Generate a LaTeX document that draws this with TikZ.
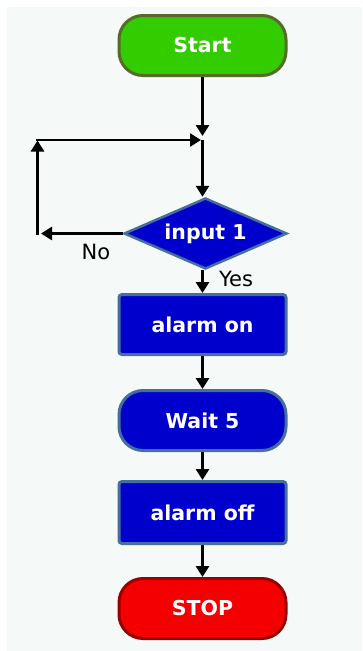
\documentclass[tikz,border=0pt]{standalone}
\usepackage{fontspec}
\setmainfont{DejaVu Sans}
\usetikzlibrary{shapes.geometric,arrows.meta}
\definecolor{bgc}{HTML}{F5F9F8}
\definecolor{gfill}{HTML}{33CC00}
\definecolor{gline}{HTML}{566B2A}
\definecolor{bfill}{HTML}{0000CC}
\definecolor{bline}{HTML}{45709E}
\definecolor{rfill}{HTML}{F50000}
\definecolor{rline}{HTML}{990000}
\tikzset{
  lbl/.style={text=white,font=\bfseries\fontsize{20.5}{24}\selectfont},
  term/.style={lbl,draw,line width=3pt,rounded corners=24pt,minimum width=167pt,minimum height=60pt,inner sep=0pt},
  proc/.style={lbl,draw=bline,fill=bfill,line width=3pt,rounded corners=3pt,minimum width=167pt,minimum height=60pt,inner sep=0pt},
  dec/.style={lbl,diamond,draw=bline,fill=bfill,line width=2.5pt,aspect=2.26,minimum width=163pt,minimum height=71pt,inner sep=0pt},
  arr/.style={line width=2.7pt,-{Triangle[width=13pt,length=11pt]}},
  yn/.style={text=black,font=\fontsize{21}{24}\selectfont,inner sep=0pt}
}
\begin{document}
\begin{tikzpicture}[x=1pt,y=-1pt]
\useasboundingbox (0,0) rectangle (362,651);
\fill[bgc] (7,7) rectangle (362,651);
\node[term,fill=gfill,draw=gline] (start) at (202.5,45.5) {Start};
\coordinate (j) at (202.5,140);
\coordinate (tl) at (37.5,140);
\coordinate (bl) at (37.5,233.5);
\node[dec] (dia) at (205.5,233.5) {input 1};
\node[proc] (on) at (202.5,324.5) {alarm on};
\node[term,fill=bfill,draw=bline] (wait) at (202.5,420.5) {Wait 5};
\node[proc,minimum height=62pt] (off) at (202.5,512.5) {alarm off};
\node[term,fill=rfill,draw=rline] (stop) at (202.5,608.5) {STOP};
\node[yn] (no) at (96,252) {No};
\node[yn] (yes) at (236,278.5) {Yes};
\draw[arr,shorten >=4pt] (start.south) -- (j);
\draw[arr,line cap=rect,shorten >=1.5pt] (tl) -- (j);
\draw[arr] (j) -- (j |- dia.north);
\draw[arr,shorten >=3.5pt] (dia.west) -- (bl);
\draw[arr,line cap=rect,shorten >=0.5pt] (bl) -- (tl);
\draw[arr] (dia.south -| j) -- (on.north);
\draw[arr] (on.south) -- (wait.north);
\draw[arr] (wait.south) -- (off.north);
\draw[arr] (off.south) -- (stop.north);
\end{tikzpicture}
\end{document}
